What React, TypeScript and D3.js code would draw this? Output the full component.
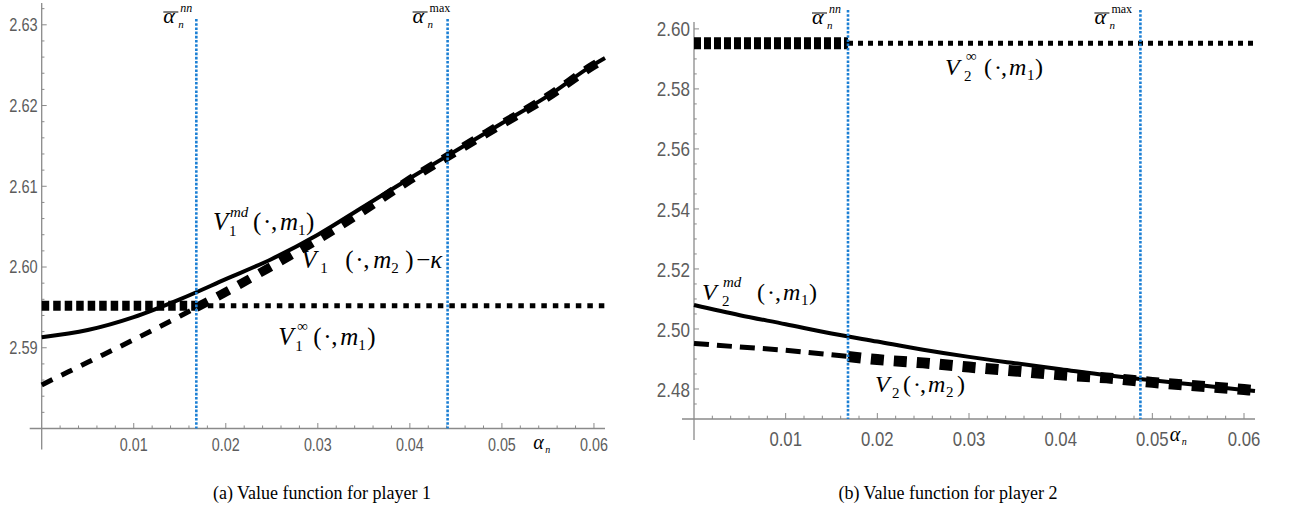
import * as d3 from "d3";

const W = 1291;
const H = 522;

// alpha_n grid the curves were read on
const alphaGrid = [0, 0.005, 0.01, 0.015, 0.02, 0.025, 0.03, 0.035, 0.04, 0.045, 0.05, 0.055, 0.06, 0.0612];

// player 1
const v1md = [2.5913, 2.5922, 2.5938, 2.596, 2.5985, 2.601, 2.604, 2.6075, 2.611, 2.6144, 2.6178, 2.6212, 2.6251, 2.6259];
const v1m2Kappa = [2.5854, 2.5882, 2.591, 2.5939, 2.5969, 2.6001, 2.6034, 2.607, 2.6108, 2.6143, 2.6177, 2.6211, 2.625, 2.6258];
const v1Inf = 2.5952;
const p1NN = 0.0168;
const p1Max = 0.0441;
const p1YTicks = [2.59, 2.6, 2.61, 2.62, 2.63];

// player 2
const v2md = [2.508, 2.5046, 2.5016, 2.4985, 2.4958, 2.4931, 2.4907, 2.4886, 2.4866, 2.4846, 2.4829, 2.4813, 2.4797, 2.4793];
const v2m2 = [2.4952, 2.494, 2.4929, 2.4914, 2.4898, 2.4887, 2.4873, 2.486, 2.4847, 2.4837, 2.4822, 2.481, 2.4798, 2.4795];
const v2Inf = 2.5952;
const p2NN = 0.0168;
const p2Max = 0.0487;
const p2YTicks = [2.48, 2.5, 2.52, 2.54, 2.56, 2.58, 2.6];

const xTicks = [0.01, 0.02, 0.03, 0.04, 0.05, 0.06];

const BLUE = "#1b7fd4";
const AXIS = "#8a8a8a";
const TICKTXT = "#5c5c5c";
const SERIF = "'Liberation Serif', 'Times New Roman', serif";
const SANS = "'Liberation Sans', Arial, sans-serif";

type Part = [string, number, number, number, boolean]; // text, dx, dy, size, italic

function MathLabel({x, y, parts}: {x: number; y: number; parts: Part[]}) {
    return (
        <text fontFamily={SERIF} fill="#000">
            {parts.map(([t, dx, dy, size, it], i) => (
                <tspan key={i} x={x + dx} y={y + dy} fontSize={size} fontStyle={it ? "italic" : "normal"}>{t}</tspan>
            ))}
        </text>
    );
}

function AlphaBar({x, y, sup, supItalic}: {x: number; y: number; sup: string; supItalic: boolean}) {
    return (
        <g>
            <line x1={x} x2={x + 15} y1={y - 11} y2={y - 11} stroke="#000" strokeWidth={1}/>
            <MathLabel x={x} y={y} parts={[
                ["α", 0, 0, 22, true],
                ["n", 15, 5, 11, true],
                [sup, 17, -11, 12, supItalic],
            ]}/>
        </g>
    );
}

interface PanelProps {
    xRange: [number, number];
    yDomain: [number, number];
    yRange: [number, number];
    yTicks: number[];
    yMinorStep: number;
    solid: number[];
    dashed: number[];
    inf: number;
    nn: number;
    max: number;
    blueTop: number;
    tickFont: number;
    yTickLen: number;
    xTickLen: number;
    xLabelBaseline: number;
    thickDot: string;
    thickDotW: number;
    thinDot: string;
    thickDash: string;
    thickDashW: number;
    thinDash: string;
    caption: string;
    captionX: number;
    children?: any;
}

function Panel(p: PanelProps) {
    const x = d3.scaleLinear().domain([0, 0.0612]).range(p.xRange);
    const y = d3.scaleLinear().domain(p.yDomain).range(p.yRange);
    const x0 = x(0);
    const y0 = y(p.yDomain[0]);

    const line = d3.line<[number, number]>()
        .x(d => x(d[0]))
        .y(d => y(d[1]))
        .curve(d3.curveMonotoneX);

    const seg = (vals: number[], lo: number, hi: number): [number, number][] => {
        const f = d3.scaleLinear().domain(alphaGrid).range(vals);
        const pts: [number, number][] = [[lo, f(lo)]];
        alphaGrid.forEach(a => { if (a > lo && a < hi) pts.push([a, f(a)]); });
        pts.push([hi, f(hi)]);
        return pts;
    };

    const end = 0.0612;
    const xMinor = d3.range(0.002, end, 0.002).filter(v => Math.abs(v * 100 - Math.round(v * 100)) > 1e-6);
    const yMinor = d3.range(p.yDomain[0] + p.yMinorStep, p.yDomain[1], p.yMinorStep)
        .filter(v => !p.yTicks.some(t => Math.abs(t - v) < 1e-6));

    return (
        <g>
            {/* axes */}
            <line x1={x0 - 12} x2={p.xRange[1]} y1={y0} y2={y0} stroke={AXIS} strokeWidth={1.3}/>
            <line x1={x0} x2={x0} y1={p.yRange[1]} y2={y0 + 21} stroke={AXIS} strokeWidth={1.3}/>
            {xTicks.map(t => (
                <g key={t}>
                    <line x1={x(t)} x2={x(t)} y1={y0} y2={y0 - p.xTickLen} stroke={AXIS} strokeWidth={1}/>
                    <text x={x(t)} y={p.xLabelBaseline} textAnchor="middle" fontFamily={SANS} fontSize={p.tickFont}
                          fill={TICKTXT} textLength={p.tickFont * 1.55} lengthAdjust="spacingAndGlyphs">{d3.format(".2f")(t)}</text>
                </g>
            ))}
            {xMinor.map(t => (
                <line key={t} x1={x(t)} x2={x(t)} y1={y0} y2={y0 - p.xTickLen * 0.55} stroke={AXIS} strokeWidth={1}/>
            ))}
            {p.yTicks.map(t => (
                <g key={t}>
                    <line x1={x0} x2={x0 + p.yTickLen} y1={y(t)} y2={y(t)} stroke={AXIS} strokeWidth={1}/>
                    <text x={x0 - 4} y={y(t) + p.tickFont * 0.36} textAnchor="end" fontFamily={SANS} fontSize={p.tickFont}
                          fill={TICKTXT} textLength={p.tickFont * 1.58} lengthAdjust="spacingAndGlyphs">{d3.format(".2f")(t)}</text>
                </g>
            ))}
            {yMinor.map(t => (
                <line key={t} x1={x0} x2={x0 + p.yTickLen * 0.55} y1={y(t)} y2={y(t)} stroke={AXIS} strokeWidth={1}/>
            ))}

            {/* V^infinity: thick dots up to alpha^nn, thin after */}
            <line x1={x(0)} x2={x(p.nn)} y1={y(p.inf)} y2={y(p.inf)} stroke="#000"
                  strokeWidth={p.thickDotW} strokeDasharray={p.thickDot}/>
            <line x1={x(p.nn)} x2={x(end)} y1={y(p.inf)} y2={y(p.inf)} stroke="#000"
                  strokeWidth={5} strokeDasharray={p.thinDot}/>

            {/* V^md: solid */}
            <path d={line(seg(p.solid, 0, end)) ?? ""} fill="none" stroke="#000" strokeWidth={4}/>

            {/* V(.,m2): thin dashes before alpha^nn, thick after */}
            <path d={line(seg(p.dashed, 0, p.nn)) ?? ""} fill="none" stroke="#000" strokeWidth={5}
                  strokeDasharray={p.thinDash}/>
            <path d={line(seg(p.dashed, p.nn, end)) ?? ""} fill="none" stroke="#000" strokeWidth={p.thickDashW}
                  strokeDasharray={p.thickDash}/>

            {/* thresholds */}
            {[p.nn, p.max].map(a => (
                <line key={a} x1={x(a)} x2={x(a)} y1={p.blueTop} y2={y0} stroke={BLUE} strokeWidth={2.6}
                      strokeDasharray="2.6 1.6"/>
            ))}

            {p.children && p.children(x, y)}

            <text x={p.captionX} y={499} textAnchor="middle" fontFamily={SERIF} fontSize={18} fill="#000">{p.caption}</text>
        </g>
    );
}

export default function App() {
    return (
        <svg width={W} height={H} viewBox={`0 0 ${W} ${H}`}
             style={{position: "absolute", left: 0, top: 0, background: "#fff"}}>
            <Panel xRange={[41.7, 605]} yDomain={[2.58, 2.6327]} yRange={[428.5, 3]} yTicks={p1YTicks}
                   yMinorStep={0.002} solid={v1md} dashed={v1m2Kappa} inf={v1Inf} nn={p1NN} max={p1Max}
                   blueTop={19} tickFont={18} yTickLen={5} xTickLen={5.5} xLabelBaseline={451}
                   thickDot="7.5 4" thickDotW={10} thinDot="5.5 6" thickDash="13 11" thickDashW={9} thinDash="12 10"
                   caption="(a) Value function for player 1" captionX={322}>
                {(x: any, y: any) => (
                    <g>
                        <AlphaBar x={x(p1NN) - 33} y={23} sup="nn" supItalic={true}/>
                        <AlphaBar x={x(p1Max) - 35} y={23} sup="max" supItalic={false}/>
                        <MathLabel x={x(0.0534)} y={449} parts={[["α", 0, 0, 20, true], ["n", 12, 4, 10, true]]}/>
                        <MathLabel x={x(0.0186)} y={y(2.6046)} parts={[
                            ["V", 0, 0, 25, true], ["1", 16, 6, 15, false], ["md", 17, -13, 15, true],
                            ["(", 40, 0, 25, false], ["·", 50, 0, 25, false], [",", 58, 0, 25, false],
                            ["m", 67, 0, 25, true], ["1", 85, 5, 15, false], [")", 93, 0, 25, false],
                        ]}/>
                        <MathLabel x={x(0.0282)} y={y(2.5999)} parts={[
                            ["V", 0, 0, 25, true], ["1", 19, 5, 15, false],
                            ["(", 44, 0, 25, false], ["·", 54, 0, 25, false], [",", 62, 0, 25, false],
                            ["m", 72, 0, 25, true], ["2", 90, 5, 15, false], [")", 104, 0, 25, false],
                            ["−", 115, 0, 25, false], ["κ", 129, 0, 25, true],
                        ]}/>
                        <MathLabel x={x(0.0257)} y={y(2.5903)} parts={[
                            ["V", 0, 0, 25, true], ["1", 17, 6, 15, false], ["∞", 19, -14, 15, false],
                            ["(", 35, 0, 25, false], ["·", 45, 0, 25, false], [",", 53, 0, 25, false],
                            ["m", 62, 0, 25, true], ["1", 80, 5, 15, false], [")", 89, 0, 25, false],
                        ]}/>
                    </g>
                )}
            </Panel>
            <Panel xRange={[694, 1255]} yDomain={[2.47, 2.6023]} yRange={[419, 22]} yTicks={p2YTicks}
                   yMinorStep={0.005} solid={v2md} dashed={v2m2} inf={v2Inf} nn={p2NN} max={p2Max}
                   blueTop={10} tickFont={21} yTickLen={5} xTickLen={6} xLabelBaseline={446}
                   thickDot="7 3" thickDotW={12} thinDot="5 5" thickDash="13 10" thickDashW={11} thinDash="15 8"
                   caption="(b) Value function for player 2" captionX={948}>
                {(x: any, y: any) => (
                    <g>
                        <AlphaBar x={x(p2NN) - 36} y={24} sup="nn" supItalic={true}/>
                        <AlphaBar x={x(p2Max) - 46} y={24} sup="max" supItalic={false}/>
                        <MathLabel x={x(0.0519)} y={441} parts={[["α", 0, 0, 20, true], ["n", 12, 4, 10, true]]}/>
                        <MathLabel x={x(0.02737)} y={y(2.5847)} parts={[
                            ["V", 0, 0, 24, true], ["2", 19, 6, 15, false], ["∞", 21, -14, 15, false],
                            ["(", 39, 0, 24, false], ["·", 49, 0, 24, false], [",", 56, 0, 24, false],
                            ["m", 64, 0, 24, true], ["1", 82, 5, 15, false], [")", 90, 0, 24, false],
                        ]}/>
                        <MathLabel x={x(0.00087)} y={y(2.5097)} parts={[
                            ["V", 0, 0, 24, true], ["2", 20, 6, 15, false], ["md", 21, -13, 15, true],
                            ["(", 55, 0, 24, false], ["·", 65, 0, 24, false], [",", 73, 0, 24, false],
                            ["m", 81, 0, 24, true], ["1", 99, 5, 15, false], [")", 107, 0, 24, false],
                        ]}/>
                        <MathLabel x={x(0.01974)} y={y(2.479)} parts={[
                            ["V", 0, 0, 24, true], ["2", 17, 6, 15, false],
                            ["(", 28, 0, 24, false], ["·", 38, 0, 24, false], [",", 45, 0, 24, false],
                            ["m", 53, 0, 24, true], ["2", 71, 5, 15, false], [")", 82, 0, 24, false],
                        ]}/>
                    </g>
                )}
            </Panel>
        </svg>
    );
}
